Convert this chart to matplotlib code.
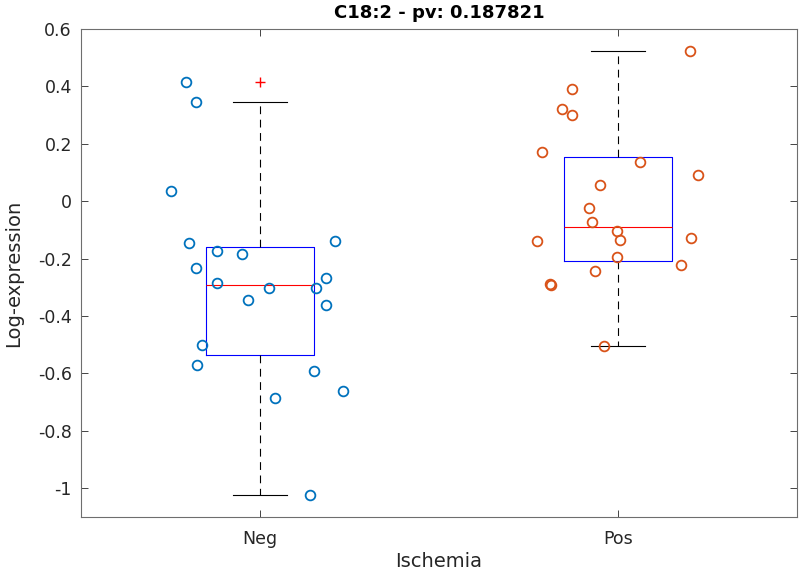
import numpy as np
import matplotlib
matplotlib.use("Agg")
import matplotlib.pyplot as plt

plt.rcParams['font.family'] = ['DejaVu Sans']

categories = ["Neg", "Pos"]
title = "C18:2 - pv: 0.187821"
xlabel = "Ischemia"
ylabel = "Log-expression"

neg_values = [0.4165, 0.347, 0.034, -0.144, -0.174, -0.183, -0.138, -0.234, -0.284, -0.269,
              -0.302, -0.302, -0.343, -0.363, -0.501, -0.572, -0.590, -0.660, -0.685, -1.023]
neg_jitter = [0.792, 0.821, 0.751, 0.802, 0.880, 0.951, 1.209, 0.821, 0.880, 1.185,
              1.024, 1.157, 0.967, 1.185, 0.839, 0.825, 1.152, 1.231, 1.041, 1.139]

pos_values = [0.525, 0.392, 0.322, 0.302, 0.173, 0.138, 0.090, 0.055, -0.025, -0.074,
              -0.103, -0.134, -0.138, -0.129, -0.193, -0.223, -0.243, -0.287, -0.293, -0.506]
pos_jitter = [2.200, 1.872, 1.844, 1.872, 1.789, 2.061, 2.223, 1.950, 1.918, 1.927,
              1.996, 2.006, 1.775, 2.204, 1.996, 2.176, 1.937, 1.809, 1.812, 1.960]

yticks = [-1, -0.8, -0.6, -0.4, -0.2, 0, 0.2, 0.4, 0.6]
ytick_labels = ["-1", "-0.8", "-0.6", "-0.4", "-0.2", "0", "0.2", "0.4", "0.6"]

point_colors = ["#0072BD", "#D95319"]
axis_gray = "#262626"


def matlab_stats(vals, label):
    v = np.asarray(vals)
    q1, med, q3 = np.percentile(v, [25, 50, 75], method="hazen")
    iqr = q3 - q1
    lo_f, hi_f = q1 - 1.5 * iqr, q3 + 1.5 * iqr
    inside = v[(v >= lo_f) & (v <= hi_f)]
    return dict(med=med, q1=q1, q3=q3, whislo=inside.min(), whishi=inside.max(),
                fliers=v[(v < lo_f) | (v > hi_f)], label=label)


fig = plt.figure(figsize=(8, 5.74), dpi=100)
ax = fig.add_axes([81 / 800, 57 / 574, 716 / 800, 488 / 574])

stats = [matlab_stats(neg_values, categories[0]), matlab_stats(pos_values, categories[1])]
ax.bxp(stats, positions=[1, 2], widths=0.3, showfliers=True,
       boxprops=dict(color="#0000FF", linewidth=0.8),
       medianprops=dict(color="#FF0000", linewidth=0.8),
       whiskerprops=dict(color="black", linewidth=0.8, linestyle=(0, (7, 5))),
       capprops=dict(color="black", linewidth=0.8),
       flierprops=dict(marker="+", markeredgecolor="#FF0000", markersize=7, linestyle="none"),
       capwidths=0.15, zorder=2)

for jit, vals, col in [(neg_jitter, neg_values, point_colors[0]), (pos_jitter, pos_values, point_colors[1])]:
    ax.plot(jit, vals, linestyle="none", marker="o", markersize=7, markerfacecolor="none",
            markeredgecolor=col, markeredgewidth=1.3, zorder=3)

ax.set_xlim(0.5, 2.5)
ax.set_ylim(-1.1, 0.6)
ax.set_xticks([1, 2])
ax.set_xticklabels(categories)
ax.set_yticks(yticks)
ax.set_yticklabels(ytick_labels)
ax.tick_params(direction="in", length=5, width=0.6, color=axis_gray, labelcolor=axis_gray,
               labelsize=12.5, top=True, right=True)
ax.tick_params(axis="x", pad=9)
ax.tick_params(axis="y", pad=6.5)
for s in ax.spines.values():
    s.set_color("#6e6e6e")
    s.set_linewidth(0.8)

ax.set_title(title, fontsize=13, fontweight="bold", pad=8)
ax.set_xlabel(xlabel, fontsize=14, color=axis_gray, labelpad=3)
ax.set_ylabel(ylabel, fontsize=14, color=axis_gray, labelpad=11)

fig.savefig("out.png", dpi=100)
